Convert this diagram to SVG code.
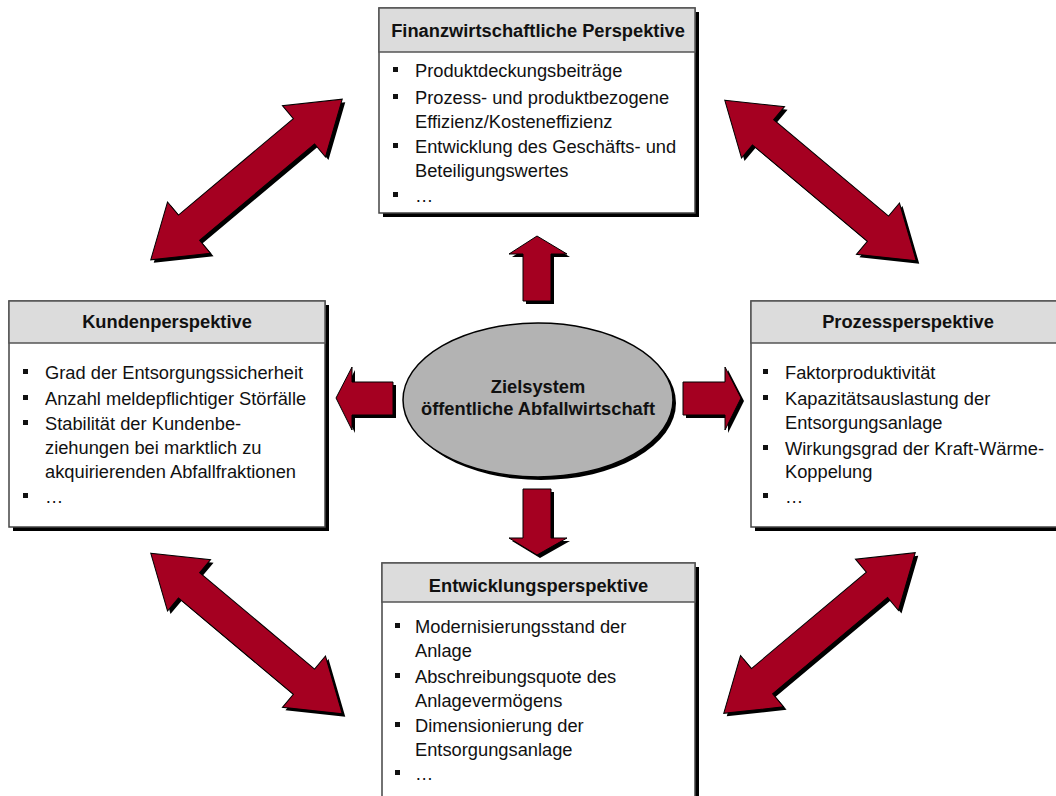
<svg xmlns="http://www.w3.org/2000/svg" xmlns:xlink="http://www.w3.org/1999/xlink" width="1056" height="796" viewBox="0 0 1056 796">
<style>
text{font-family:"Liberation Sans",Arial,sans-serif;font-size:18.3px;fill:#111}
.hd{font-weight:bold;text-anchor:middle}
.box{fill:#fff;stroke:#444;stroke-width:1.5}
.shadow{fill:#000}
.head{fill:#dcdcdc;stroke:#555;stroke-width:1.5}
.arr{fill:#a50021;stroke:#000;stroke-width:1}
.ash{fill:#000}
.bul{fill:#111}
.ell{fill:#b3b3b3;stroke:#000;stroke-width:1.5}
</style>
<defs>
<polygon id="dbl" points="-125,0 -75,-33.5 -75,-16.5 75,-16.5 75,-33.5 125,0 75,33.5 75,16.5 -75,16.5 -75,33.5"/>
<rect id="b" width="5" height="5"/>
</defs>
<rect width="1056" height="796" fill="#fff"/>

<g id="connectors">
  <use xlink:href="#dbl" class="ash" transform="translate(249.5,182.5) rotate(-40)"/>
  <use xlink:href="#dbl" class="arr" transform="translate(246.5,179.5) rotate(-40)"/>
  <use xlink:href="#dbl" class="ash" transform="translate(823.5,183.5) rotate(40)"/>
  <use xlink:href="#dbl" class="arr" transform="translate(820.5,180.5) rotate(40)"/>
  <use xlink:href="#dbl" class="ash" transform="translate(249.5,636.5) rotate(40)"/>
  <use xlink:href="#dbl" class="arr" transform="translate(246.5,633.5) rotate(40)"/>
  <use xlink:href="#dbl" class="ash" transform="translate(822.5,636) rotate(-40)"/>
  <use xlink:href="#dbl" class="arr" transform="translate(819.5,633) rotate(-40)"/>
  <polygon class="ash" points="540,239 570,257 554,257 554,304 526,304 526,257 512,257"/>
  <polygon class="arr" points="537,236 567,254 551,254 551,301 523,301 523,254 509,254"/>
  <polygon class="ash" points="526,492 554,492 554,541 570,541 540,558 512,541 526,541"/>
  <polygon class="arr" points="523,489 551,489 551,538 567,538 537,555 509,538 523,538"/>
  <polygon class="ash" points="339,401 355,370 355,385 396,385 396,418 355,418 355,433"/>
  <polygon class="arr" points="336,398 352,367 352,382 393,382 393,415 352,415 352,430"/>
  <polygon class="ash" points="686,385 728,385 728,370 744,401 728,433 728,418 686,418"/>
  <polygon class="arr" points="683,382 725,382 725,367 741,398 725,430 725,415 683,415"/>
</g>

<g id="center">
  <ellipse class="shadow" cx="541" cy="403" rx="135" ry="77"/>
  <ellipse class="ell" cx="538" cy="400" rx="135" ry="77"/>
  <text class="hd" x="538" y="393">Zielsystem</text>
  <text class="hd" x="538" y="415">öffentliche Abfallwirtschaft</text>
</g>

<g id="finanz">
  <rect class="shadow" x="383" y="12" width="316" height="205"/>
  <rect class="box" x="379" y="8" width="316" height="205"/>
  <rect class="head" x="379" y="8" width="316" height="44"/>
  <text class="hd" x="538" y="37">Finanzwirtschaftliche Perspektive</text>
  <use xlink:href="#b" class="bul" x="393" y="67"/>
  <text x="415" y="77">Produktdeckungsbeiträge</text>
  <use xlink:href="#b" class="bul" x="393" y="94"/>
  <text x="415" y="104">Prozess- und produktbezogene</text>
  <text x="415" y="128">Effizienz/Kosteneffizienz</text>
  <use xlink:href="#b" class="bul" x="393" y="143"/>
  <text x="415" y="153">Entwicklung des Geschäfts- und</text>
  <text x="415" y="177">Beteiligungswertes</text>
  <use xlink:href="#b" class="bul" x="393" y="192"/>
  <text x="415" y="202">…</text>
</g>

<g id="kunden">
  <rect class="shadow" x="13" y="305" width="316" height="226"/>
  <rect class="box" x="9" y="301" width="316" height="226"/>
  <rect class="head" x="9" y="301" width="316" height="42"/>
  <text class="hd" x="167" y="328">Kundenperspektive</text>
  <use xlink:href="#b" class="bul" x="23" y="369"/>
  <text x="45" y="379">Grad der Entsorgungssicherheit</text>
  <use xlink:href="#b" class="bul" x="23" y="395"/>
  <text x="45" y="405">Anzahl meldepflichtiger Störfälle</text>
  <use xlink:href="#b" class="bul" x="23" y="420"/>
  <text x="45" y="430">Stabilität der Kundenbe-</text>
  <text x="45" y="454">ziehungen bei marktlich zu</text>
  <text x="45" y="478">akquirierenden Abfallfraktionen</text>
  <use xlink:href="#b" class="bul" x="23" y="493"/>
  <text x="45" y="503">…</text>
</g>

<g id="prozess">
  <rect class="shadow" x="755" y="305" width="314" height="226"/>
  <rect class="box" x="751" y="301" width="314" height="226"/>
  <rect class="head" x="751" y="301" width="314" height="42"/>
  <text class="hd" x="908" y="328">Prozessperspektive</text>
  <use xlink:href="#b" class="bul" x="763" y="369"/>
  <text x="785" y="379">Faktorproduktivität</text>
  <use xlink:href="#b" class="bul" x="763" y="395"/>
  <text x="785" y="405">Kapazitätsauslastung der</text>
  <text x="785" y="429">Entsorgungsanlage</text>
  <use xlink:href="#b" class="bul" x="763" y="445"/>
  <text x="785" y="455">Wirkungsgrad der Kraft-Wärme-</text>
  <text x="785" y="478">Koppelung</text>
  <use xlink:href="#b" class="bul" x="763" y="493"/>
  <text x="785" y="503">…</text>
</g>

<g id="entwicklung">
  <rect class="shadow" x="386" y="567" width="313" height="260"/>
  <rect class="box" x="382" y="563" width="313" height="260"/>
  <rect class="head" x="382" y="563" width="313" height="39"/>
  <text class="hd" x="538.5" y="592">Entwicklungsperspektive</text>
  <use xlink:href="#b" class="bul" x="395" y="623"/>
  <text x="415" y="633">Modernisierungsstand der</text>
  <text x="415" y="657">Anlage</text>
  <use xlink:href="#b" class="bul" x="395" y="673"/>
  <text x="415" y="683">Abschreibungsquote des</text>
  <text x="415" y="707">Anlagevermögens</text>
  <use xlink:href="#b" class="bul" x="395" y="722"/>
  <text x="415" y="732">Dimensionierung der</text>
  <text x="415" y="756">Entsorgungsanlage</text>
  <use xlink:href="#b" class="bul" x="395" y="770"/>
  <text x="415" y="780">…</text>
</g>
</svg>
